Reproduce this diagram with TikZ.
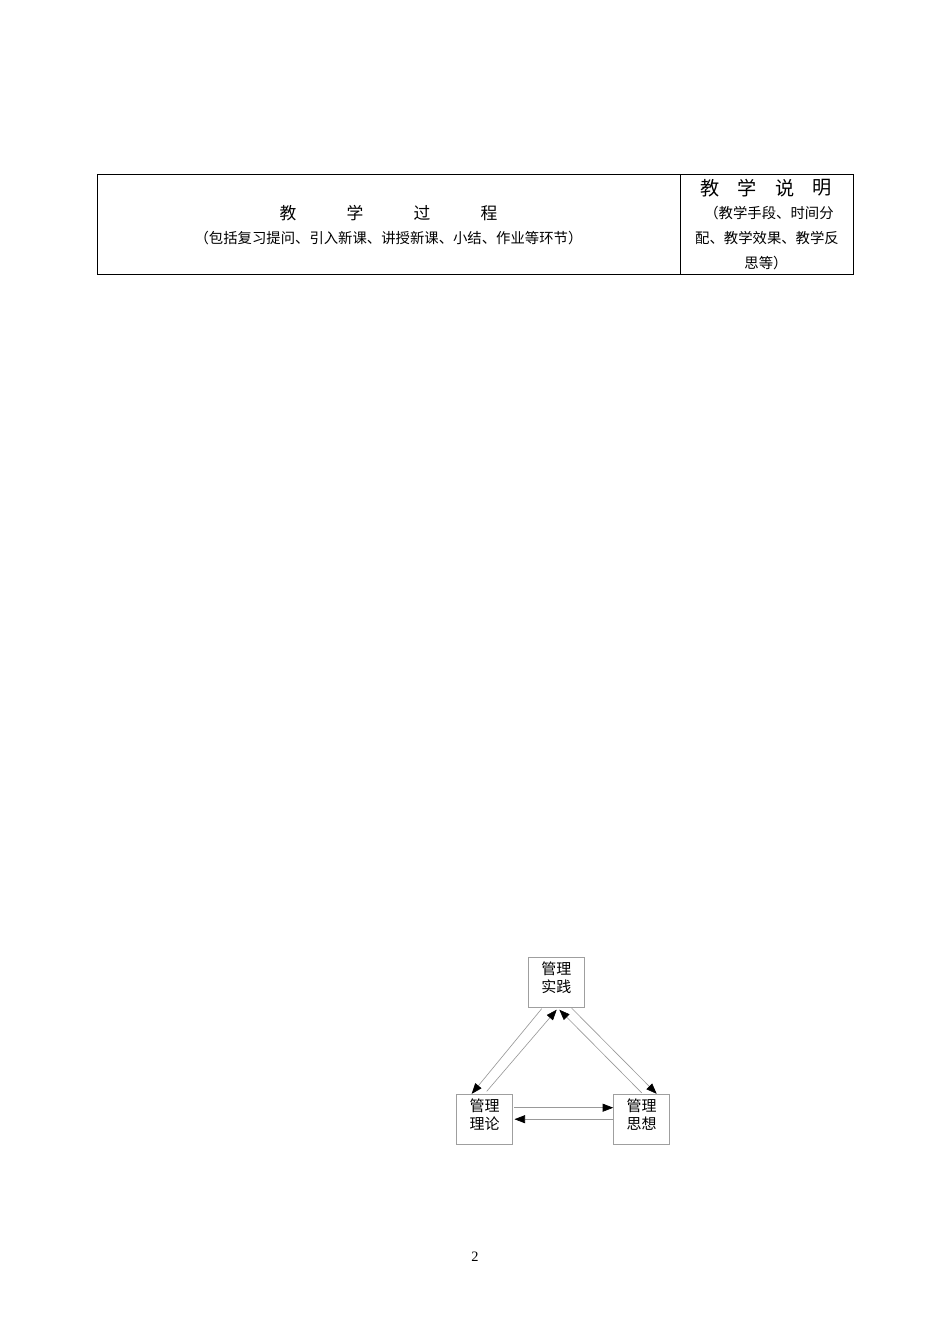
\documentclass[tikz,border=0pt]{standalone}
\usepackage{fontspec}
\setmainfont{Liberation Serif}
\newfontfamily\cjk{Noto Sans CJK SC}
\usetikzlibrary{arrows.meta,calc}
\tikzset{
  frame/.style={draw=black, line width=0.6pt},
  bigchar/.style={font=\cjk\fontsize{10.5}{12}\selectfont, inner sep=0pt},
  hdrchar/.style={font=\cjk\fontsize{12}{14}\selectfont, inner sep=0pt},
  smalltxt/.style={font=\cjk\fontsize{9}{10}\selectfont, inner sep=0pt},
  box/.style={draw=gray!75, line width=0.5pt, minimum width=35.2pt, minimum height=31.3pt, inner sep=0pt},
  boxtext/.style={font=\cjk\fontsize{9.4}{10.8}\selectfont, align=center, inner sep=0pt},
  conn/.style={draw=gray!80, line width=0.4pt, -{Triangle[length=6.6pt,width=5pt,color=black,fill=black]}},
}
\begin{document}
\begin{tikzpicture}[x=0.6266pt, y=-0.6266pt]
\useasboundingbox (0,0) rectangle (950,1344);
\fill[white] (0,0) rectangle (950,1344);
% table
\draw[frame] (97,174) rectangle (853,274);
\draw[frame] (680,174) -- (680,274);
\node[bigchar] (t1) at (288,213) {教};
\node[bigchar] (t2) at (355,213) {学};
\node[bigchar] (t3) at (422,213) {过};
\node[bigchar] (t4) at (489,213) {程};
\node[smalltxt] (sub) at (388.5,238) {（包括复习提问、引入新课、讲授新课、小结、作业等环节）};
\node[hdrchar] (h1) at (710,188) {教};
\node[hdrchar] (h2) at (747.5,188) {学};
\node[hdrchar] (h3) at (785,188) {说};
\node[hdrchar] (h4) at (822.5,188) {明};
\node[smalltxt] (r1) at (769,213) {（教学手段、时间分};
\node[smalltxt] (r2) at (767,238) {配、教学效果、教学反};
\node[smalltxt] (r3) at (766,263) {思等）};
% diagram
\node[box] (sj) at (556.3,982.3) {};
\node[box] (ll) at (484.7,1119.2) {};
\node[box] (sx) at (641.7,1119.2) {};
\node[boxtext, anchor=north] (sjt) at ($(sj.north)+(0,5)$) {管理\\实践};
\node[boxtext, anchor=north] (llt) at ($(ll.north)+(0,5)$) {管理\\理论};
\node[boxtext, anchor=north] (sxt) at ($(sx.north)+(0,5)$) {管理\\思想};
\draw[conn] ($(sj.south)+(-14.6,1)$) -- ($(ll.north)+(-13,0)$);
\draw[conn] ($(ll.north)+(2,-2.5)$) -- ($(sj.south)+(0.4,2)$);
\draw[conn] ($(sx.north)+(0,-1)$) -- ($(sj.south)+(3,2)$);
\draw[conn] ($(sj.south)+(15.4,0.5)$) -- ($(sx.north)+(15,0)$);
\draw[conn] ($(ll.east)+(1.3,-11.5)$) -- ($(sx.west)+(0,-11.5)$);
\draw[conn] ($(sx.west)+(0,0)$) -- ($(ll.east)+(1.3,0)$);
% page number
\node[font=\fontsize{9}{10}\selectfont, inner sep=0pt] (pg) at (475,1257) {2};
\end{tikzpicture}
\end{document}
